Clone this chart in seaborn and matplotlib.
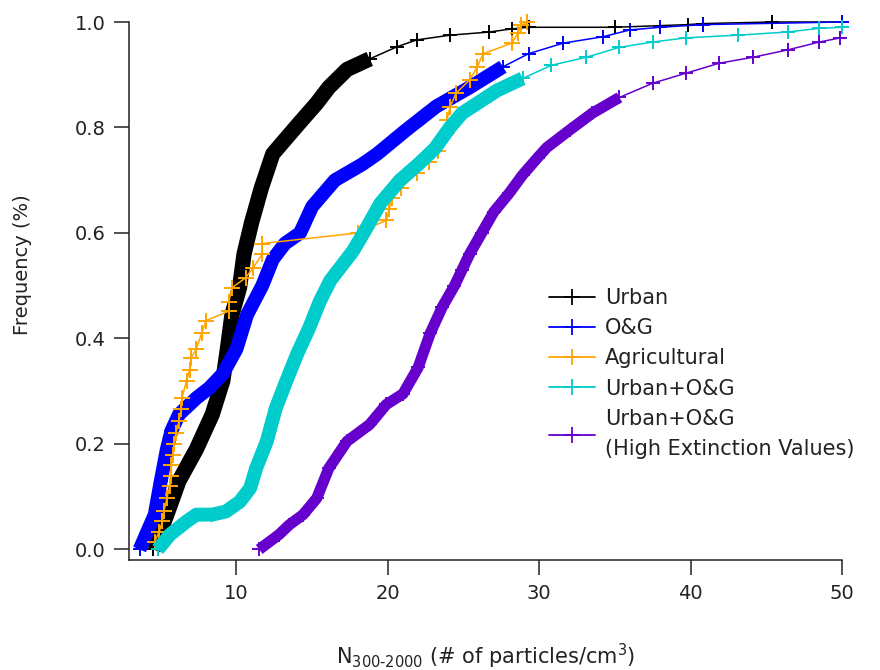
import matplotlib
matplotlib.use("Agg")
import matplotlib.pyplot as plt
import seaborn as sns
import pandas as pd
from matplotlib.lines import Line2D

# ---- data (x = N300-2000, y = cumulative frequency) ----
urban_x = [4.5, 5.4, 6.2, 7.35, 8.4, 9.1, 9.4, 9.7, 10.2, 10.5, 11.0, 11.65, 12.4, 13.3, 14.2,
           15.3, 16.1, 17.3, 18.8, 20.6, 21.9, 24.1, 26.7, 28.2, 29.3, 35.0, 39.8, 40.8, 45.4, 50.0]
urban_y = [0.0, 0.066, 0.13, 0.19, 0.256, 0.32, 0.38, 0.445, 0.496, 0.56, 0.62, 0.686, 0.75, 0.78, 0.81,
           0.846, 0.876, 0.91, 0.93, 0.953, 0.966, 0.975, 0.981, 0.987, 0.99, 0.99, 0.995, 0.997, 1.0, 1.0]

og_x = [3.6, 4.6, 5.0, 5.4, 5.7, 6.2, 7.35, 8.2, 9.1, 10.0, 10.7, 11.7, 12.4, 13.2, 14.2, 15.0,
        16.5, 18.3, 19.3, 21.2, 23.2, 25.4, 27.6, 29.3, 31.6, 34.2, 36.0, 38.0, 40.8, 50.0]
og_y = [0.0, 0.066, 0.13, 0.19, 0.225, 0.256, 0.287, 0.306, 0.333, 0.38, 0.445, 0.5, 0.55, 0.58, 0.6, 0.65,
        0.7, 0.73, 0.75, 0.795, 0.84, 0.876, 0.915, 0.94, 0.96, 0.972, 0.985, 0.99, 0.995, 1.0]

ag_x = [4.6, 4.9, 5.1, 5.2, 5.4, 5.6, 5.7, 5.7, 5.8, 5.9, 6.0, 6.2, 6.35, 6.4, 6.7, 6.9, 7.0, 7.35,
        7.7, 8.0, 9.5, 9.5, 9.7, 10.6, 11.1, 11.7, 11.7, 18.0, 19.9, 20.1, 20.3, 20.9, 21.9, 22.7,
        23.3, 23.9, 23.9, 24.1, 24.5, 25.4, 25.9, 26.3, 28.2, 28.6, 28.8, 29.2]
ag_y = [0.015, 0.034, 0.053, 0.072, 0.097, 0.12, 0.14, 0.16, 0.18, 0.2, 0.22, 0.243, 0.266, 0.287,
        0.32, 0.34, 0.363, 0.38, 0.41, 0.434, 0.452, 0.47, 0.496, 0.515, 0.534, 0.56, 0.58, 0.6,
        0.624, 0.646, 0.667, 0.686, 0.713, 0.735, 0.755, 0.789, 0.814, 0.838, 0.865, 0.89, 0.915,
        0.94, 0.96, 0.979, 0.994, 1.0]

uog_x = [4.8, 5.6, 6.7, 7.35, 8.4, 9.3, 10.2, 10.9, 11.3, 12.0, 12.6, 13.3, 14.0, 14.8, 15.5, 16.2,
         17.7, 18.6, 19.5, 20.8, 22.0, 23.1, 24.1, 24.9, 27.2, 28.9, 30.8, 33.1, 35.3, 37.5, 39.7,
         43.1, 46.4, 48.5, 50.0]
uog_y = [0.0, 0.028, 0.053, 0.066, 0.066, 0.072, 0.09, 0.116, 0.154, 0.205, 0.268, 0.32, 0.37, 0.42,
         0.47, 0.51, 0.566, 0.61, 0.656, 0.70, 0.73, 0.76, 0.80, 0.827, 0.87, 0.893, 0.918, 0.933,
         0.952, 0.962, 0.97, 0.975, 0.981, 0.988, 0.99]

hi_x = [11.5, 12.8, 13.5, 14.4, 15.3, 16.1, 17.3, 18.8, 19.9, 21.0, 22.0, 22.8, 23.6, 24.4, 24.9,
        25.4, 26.2, 27.0, 28.0, 28.9, 29.9, 30.5, 32.0, 33.5, 35.3, 37.5, 39.7, 41.9, 44.1, 46.4,
        48.5, 49.9]
hi_y = [0.0, 0.028, 0.047, 0.066, 0.097, 0.154, 0.205, 0.237, 0.275, 0.295, 0.345, 0.41, 0.46, 0.5,
        0.53, 0.56, 0.6, 0.64, 0.675, 0.71, 0.743, 0.762, 0.795, 0.827, 0.857, 0.884, 0.903, 0.922,
        0.933, 0.947, 0.962, 0.97]

labels = ["Urban", "O&G", "Agricultural", "Urban+O&G", "Urban+O&G\n(High Extinction Values)"]
colors = ["#000000", "#0000FF", "#FFA500", "#00CCCC", "#6600CC"]
series = [(urban_x, urban_y), (og_x, og_y), (ag_x, ag_y), (uog_x, uog_y), (hi_x, hi_y)]
# upper frequency limit of the densely sampled part of each curve (drawn as a thick band)
dense_top = [0.93, 0.92, None, 0.90, 0.86]
band_w = [11, 10, 0, 10, 8]
marker_sz = [10, 10, 11, 10, 10]

sns.set_theme(style="ticks")
plt.rcParams["font.family"] = ["DejaVu Sans"]

fig = plt.figure(figsize=(8.8, 6.7), dpi=100)
ax = fig.add_axes([129 / 880, 1 - 560 / 670, (842 - 129) / 880, (560 - 22) / 670])

for (xs, ys), lab, col, dt, bw, ms in zip(series, labels, colors, dense_top, band_w, marker_sz):
    df = pd.DataFrame({"x": xs, "y": ys})
    if dt is not None:
        dd = df[df["y"] <= dt]
        sns.lineplot(data=dd, x="x", y="y", ax=ax, color=col, lw=bw, sort=False,
                     estimator=None, solid_capstyle="butt", legend=False)
    sns.lineplot(data=df, x="x", y="y", ax=ax, color=col, lw=1.1, sort=False, estimator=None,
                 marker="+", markersize=ms, markeredgewidth=1.4, markeredgecolor=col,
                 markerfacecolor=col, legend=False, clip_on=False)

ax.set_xlim(2.9, 50)
ax.set_ylim(-0.02, 1.0)
ax.set_xticks([10, 20, 30, 40, 50])
ax.set_yticks([0.0, 0.2, 0.4, 0.6, 0.8, 1.0])
ax.set_yticklabels(["0.0", "0.2", "0.4", "0.6", "0.8", "1.0"])
for s in ["top", "right"]:
    ax.spines[s].set_visible(False)
for s in ["left", "bottom"]:
    ax.spines[s].set_linewidth(1.1)
    ax.spines[s].set_color("#222222")
ax.tick_params(axis="both", direction="out", length=11, width=1.1, colors="#222222",
               labelsize=14, pad=6, labelcolor="#222222")

ax.set_ylabel("Frequency (%)", fontsize=14, color="#222222")
ax.yaxis.set_label_coords((32 - 129) / 713, (560 - 265) / 538)
ax.set_xlabel("N$_{\\mathregular{300\u20102000}}$ (# of particles/cm$^{\\mathregular{3}}$)",
              fontsize=15, color="#222222", labelpad=28)

handles = [Line2D([0], [0], color=c, lw=1.3, marker="+", markersize=11, markeredgewidth=1.3)
           for c in colors]
leg = ax.legend(handles, labels, loc="upper left", bbox_to_anchor=(549 / 880, 1 - 288 / 670),
                bbox_transform=fig.transFigure, frameon=False, fontsize=15, handlelength=2.2,
                handletextpad=0.5, labelspacing=0.49, borderpad=0, borderaxespad=0)
for t in leg.get_texts():
    t.set_color("#222222")
    t.set_linespacing(1.65)

fig.savefig("out.png", dpi=100)
